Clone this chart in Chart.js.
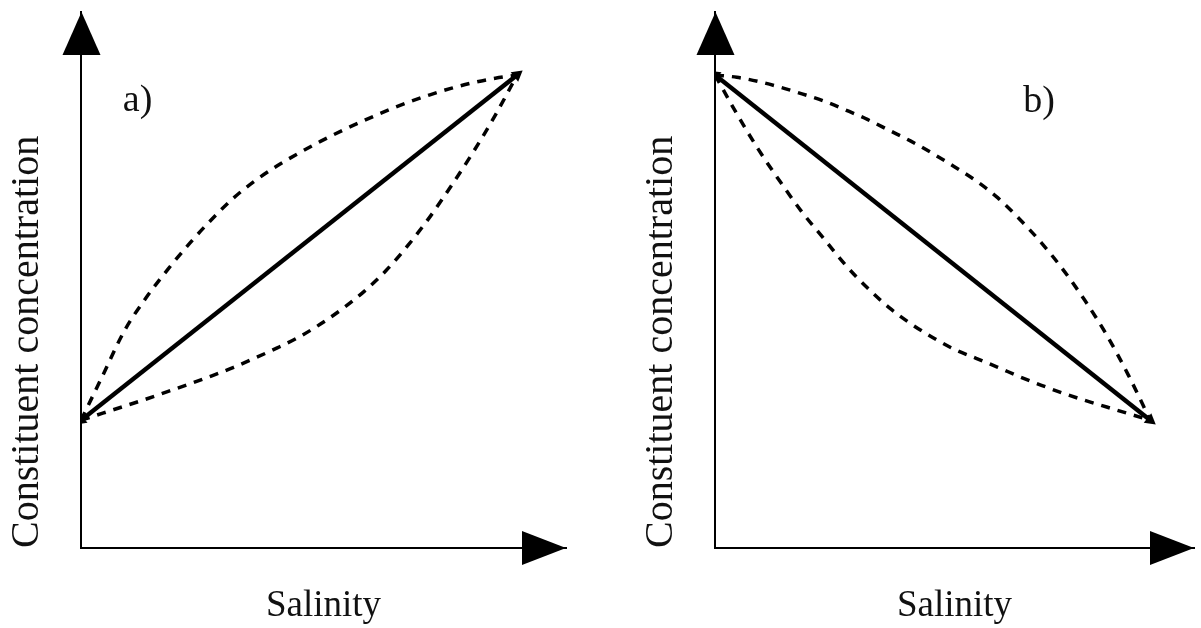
<!DOCTYPE html>
<html>
<head>
<meta charset="utf-8">
<title>Constituent concentration vs salinity</title>
<script src="https://cdn.jsdelivr.net/npm/chart.js@4.4.1/dist/chart.umd.min.js"></script>
<style>
  html, body { margin: 0; padding: 0; background: #fff; }
  #wrap { position: relative; width: 1201px; height: 628px; overflow: hidden; }
  canvas { position: absolute; top: 0; }
  #chartA { left: 0; }
  #chartB { left: 600px; }
</style>
</head>
<body>
<div id="wrap">
  <canvas id="chartA" width="600" height="628"></canvas>
  <canvas id="chartB" width="601" height="628"></canvas>
</div>
<script>
// Relative salinity (0 = river end member, 1 = sea end member)
// and relative constituent concentration.
const salinityGrid = [0, 0.05, 0.10, 0.15, 0.20, 0.25, 0.30, 0.35, 0.40, 0.45, 0.50,
                      0.55, 0.60, 0.65, 0.70, 0.75, 0.80, 0.85, 0.90, 0.95, 1];

// Panel a) — constituent richer at the sea end
const conservativeSalA = [0, 1];
const conservativeConcA = [0.27, 1.0];
const additionConcA = [0.27, 0.365, 0.46, 0.53, 0.59, 0.645, 0.695, 0.74, 0.777, 0.808, 0.835,
                       0.86, 0.883, 0.904, 0.924, 0.942, 0.958, 0.972, 0.984, 0.993, 1.0];
const removalConcA = [0.27, 0.285, 0.30, 0.315, 0.331, 0.347, 0.364, 0.382, 0.402, 0.423, 0.446,
                      0.474, 0.506, 0.543, 0.587, 0.64, 0.70, 0.767, 0.838, 0.915, 1.0];

// Panel b) — constituent richer at the river end
const conservativeSalB = [0, 1];
const conservativeConcB = [1.0, 0.27];
const additionConcB = [1.0, 0.995, 0.986, 0.974, 0.96, 0.945, 0.926, 0.906, 0.883, 0.86, 0.834,
                       0.806, 0.776, 0.74, 0.695, 0.645, 0.588, 0.523, 0.45, 0.365, 0.27];
const removalConcB = [1.0, 0.918, 0.842, 0.774, 0.71, 0.654, 0.598, 0.55, 0.508, 0.474, 0.445,
                      0.42, 0.401, 0.382, 0.362, 0.344, 0.327, 0.312, 0.298, 0.284, 0.27];

const axisTitleY = 'Constituent concentration';
const axisTitleX = 'Salinity';
const panelLabels = ['a)', 'b)'];

const SERIF = '"Liberation Serif", "Times New Roman", serif';

function pairs(xs, ys) { return xs.map((x, i) => ({ x: x, y: ys[i] })); }

// Small arrowheads on the ends of the mixing line, pointing outward
function endArrowRotation(ctx) {
  const ds = ctx.chart.data.datasets[ctx.datasetIndex].data;
  const sx = ctx.chart.scales.x, sy = ctx.chart.scales.y;
  const p0 = ds[0], p1 = ds[ds.length - 1];
  const dx = sx.getPixelForValue(p1.x) - sx.getPixelForValue(p0.x);
  const dy = sy.getPixelForValue(p1.y) - sy.getPixelForValue(p0.y);
  const ang = ctx.dataIndex === 0 ? Math.atan2(-dx, dy) : Math.atan2(dx, -dy);
  return ang * 180 / Math.PI;
}

// Filled arrowheads at the ends of both axes
const axisArrows = {
  id: 'axisArrows',
  afterDraw(chart) {
    const { ctx, chartArea } = chart;
    const x0 = chartArea.left + 0.5, y0 = chartArea.bottom;
    ctx.save();
    ctx.fillStyle = '#000';
    ctx.beginPath();
    ctx.moveTo(x0, chartArea.top);
    ctx.lineTo(x0 - 19, chartArea.top + 43);
    ctx.lineTo(x0 + 19, chartArea.top + 43);
    ctx.closePath();
    ctx.fill();
    ctx.beginPath();
    ctx.moveTo(chartArea.right, y0);
    ctx.lineTo(chartArea.right - 44, y0 - 17);
    ctx.lineTo(chartArea.right - 44, y0 + 17);
    ctx.closePath();
    ctx.fill();
    ctx.restore();
  }
};

// Panel letter placed in data coordinates
const panelLabel = {
  id: 'panelLabel',
  afterDraw(chart, args, opts) {
    const { ctx } = chart;
    const px = chart.scales.x.getPixelForValue(opts.x);
    const py = chart.scales.y.getPixelForValue(opts.y);
    ctx.save();
    ctx.font = '38px ' + SERIF;
    ctx.fillStyle = '#111';
    ctx.textAlign = 'left';
    ctx.textBaseline = 'middle';
    ctx.fillText(opts.text, px, py);
    ctx.restore();
  }
};

function makePanel(canvasId, cfg) {
  const dashed = {
    borderColor: '#000',
    borderWidth: 3.5,
    borderDash: [9, 8],
    pointRadius: 0,
    fill: false,
    cubicInterpolationMode: 'monotone'
  };
  return new Chart(document.getElementById(canvasId), {
    type: 'line',
    data: {
      datasets: [
        Object.assign({ data: pairs(salinityGrid, cfg.addConc) }, dashed),
        Object.assign({ data: pairs(salinityGrid, cfg.remConc) }, dashed),
        {
          data: pairs(cfg.consSal, cfg.consConc),
          borderColor: '#000',
          backgroundColor: '#000',
          borderWidth: 4.5,
          tension: 0,
          pointStyle: 'triangle',
          pointRadius: 7,
          pointBorderWidth: 0,
          pointRotation: endArrowRotation
        }
      ]
    },
    options: {
      responsive: false,
      animation: false,
      events: [],
      layout: { padding: cfg.padding },
      plugins: {
        legend: { display: false },
        tooltip: { enabled: false },
        panelLabel: cfg.label
      },
      scales: {
        x: {
          type: 'linear',
          min: 0,
          max: cfg.xMax,
          grid: { display: false, drawTicks: false },
          border: { display: true, color: '#000', width: 2 },
          ticks: { display: false },
          title: {
            display: true,
            text: axisTitleX,
            color: '#111',
            font: { family: SERIF, size: 37, lineHeight: 1.2 },
            padding: { top: 35.6, bottom: 0 }
          }
        },
        y: {
          type: 'linear',
          min: 0,
          max: 1.133,
          grid: { display: false, drawTicks: false },
          border: { display: true, color: '#000', width: 2 },
          ticks: { display: false },
          title: {
            display: true,
            text: axisTitleY,
            align: 'start',
            color: '#111',
            font: { family: SERIF, size: 40, lineHeight: 1.2 },
            padding: { top: 0, bottom: 30 }
          }
        }
      }
    },
    plugins: [axisArrows, panelLabel]
  });
}

makePanel('chartA', {
  consSal: conservativeSalA, consConc: conservativeConcA,
  addConc: additionConcA, remConc: removalConcA,
  xMax: 1.112,
  padding: { left: 3, right: 34, top: 12, bottom: 0 },
  label: { text: panelLabels[0], x: 0.096, y: 0.945 }
});

makePanel('chartB', {
  consSal: conservativeSalB, consConc: conservativeConcB,
  addConc: additionConcB, remConc: removalConcB,
  xMax: 1.1005,
  padding: { left: 37, right: 4, top: 12, bottom: 0 },
  label: { text: panelLabels[1], x: 0.708, y: 0.942 }
});
</script>
</body>
</html>
